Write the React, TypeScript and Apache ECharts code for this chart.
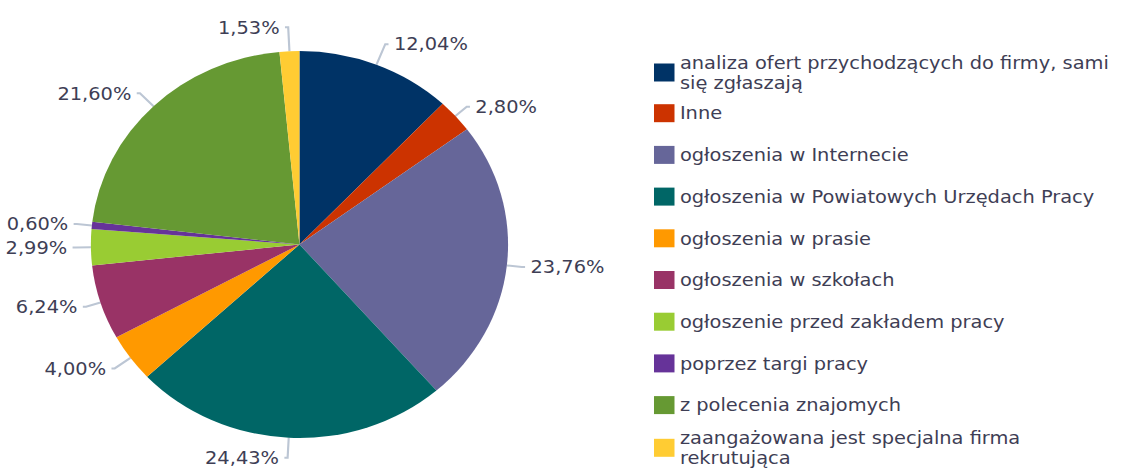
import React, { useEffect, useRef } from "react";
import * as echarts from "echarts";

const categories = [
  "analiza ofert przychodzących do firmy, sami\nsię zgłaszają",
  "Inne",
  "ogłoszenia w Internecie",
  "ogłoszenia w Powiatowych Urzędach Pracy",
  "ogłoszenia w prasie",
  "ogłoszenia w szkołach",
  "ogłoszenie przed zakładem pracy",
  "poprzez targi pracy",
  "z polecenia znajomych",
  "zaangażowana jest specjalna firma\nrekrutująca",
];

const percentages = [12.04, 2.8, 23.76, 24.43, 4.0, 6.24, 2.99, 0.6, 21.6, 1.53];

const colors = [
  "#003366",
  "#CC3300",
  "#666699",
  "#006666",
  "#FF9900",
  "#993366",
  "#99CC33",
  "#663399",
  "#669933",
  "#FFCC33",
];

// leader line lengths (layout only)
const leaderLengths = [22, 14, 14, 20, 18, 14, 14, 14, 18, 24];

const SX = 1.078;
const W = 1130;
const H = 471;

export default function App() {
  const ref = useRef<HTMLDivElement>(null);

  useEffect(() => {
    if (!ref.current) return;
    const chart = echarts.init(ref.current, undefined, { renderer: "svg" });
    const textColor = "#3e3e55";
    const font = "DejaVu Sans";
    const lh = 20;

    const legends = categories.map((name, i) => {
      const twoLine = name.includes("\n");
      const center = 71.5 + i * 41.7 + (twoLine ? 1 : 0);
      return {
        show: true,
        orient: "vertical",
        left: 606.7,
        top: center - (twoLine ? lh : lh / 2),
        padding: 0,
        itemWidth: 19,
        itemHeight: 18,
        icon: "rect",
        selectedMode: false,
        data: [name],
        textStyle: {
          color: textColor,
          fontSize: 18,
          fontFamily: font,
          lineHeight: lh,
        },
      };
    });

    chart.setOption({
      animation: false,
      color: colors,
      legend: legends,
      series: [
        {
          type: "pie",
          center: [277.8, 244.5],
          radius: 193.5,
          startAngle: 90,
          clockwise: true,
          avoidLabelOverlap: true,
          data: categories.map((name, i) => ({
            name,
            value: percentages[i],
            labelLine: { length: leaderLengths[i] },
          })),
          itemStyle: { borderWidth: 0 },
          label: {
            show: true,
            position: "outside",
            color: textColor,
            fontSize: 18,
            fontFamily: font,
            overflow: "none",
            bleedMargin: 0,
            formatter: (p: any) => p.value.toFixed(2).replace(".", ",") + "%",
          },
          labelLine: {
            show: true,
            length: 14,
            length2: 3,
            smooth: false,
            lineStyle: { color: "#bcc6d4", width: 2 },
          },
          emphasis: { disabled: true },
        },
      ],
    });
    return () => chart.dispose();
  }, []);

  return (
    <div
      style={{
        position: "fixed",
        left: 0,
        top: 0,
        width: W,
        height: H,
        overflow: "hidden",
        background: "#ffffff",
      }}
    >
      <div
        ref={ref}
        style={{
          width: W / SX,
          height: H,
          transform: `scaleX(${SX})`,
          transformOrigin: "0 0",
        }}
      />
    </div>
  );
}
